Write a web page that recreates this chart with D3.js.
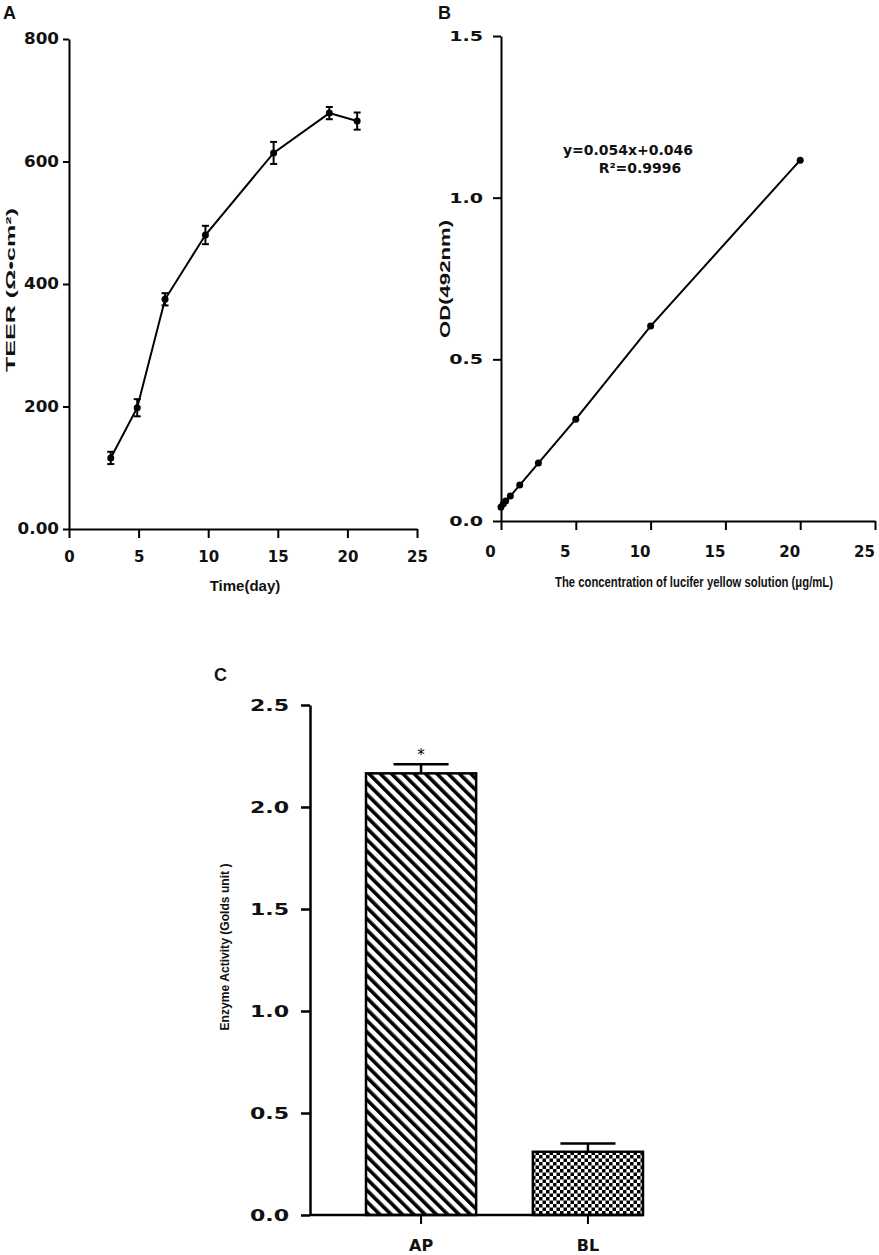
<!DOCTYPE html>
<html>

<head>
  <script type="text/javascript" src="https://d3js.org/d3.v7.min.js"></script>
  <style>
    body { margin: 0; background: #fff; }
    .tick text { font-family: "DejaVu Sans", sans-serif; font-weight: bold; fill: #111; }
    .axis path, .axis line { stroke: #000; stroke-width: 2px; }
    .title { font-family: "Liberation Sans", Arial, sans-serif; font-weight: bold; fill: #111; }
    .panel { font-family: "Liberation Sans", Arial, sans-serif; font-weight: bold; font-size: 18px; fill: #111; }
  </style>
</head>

<body>
  <script>
    // panel A: TEER over time
    var daysA = [3, 4.9, 6.9, 9.8, 14.7, 18.7, 20.7];
    var teer = [116, 198, 375, 480, 614, 679, 666];
    var teerErr = [10, 14, 10, 15, 18, 10, 14];
    var ticksAx = [0, 5, 10, 15, 20, 25];
    var ticksAy = [0, 200, 400, 600, 800];

    // panel B: lucifer yellow standard curve
    var concB = [0, 0.156, 0.3125, 0.625, 1.25, 2.5, 5, 10, 20];
    var odB = [0.043, 0.053, 0.062, 0.077, 0.111, 0.179, 0.315, 0.603, 1.116];
    var ticksBx = [0, 5, 10, 15, 20, 25];
    var ticksBy = [0, 0.5, 1.0, 1.5];

    // panel C: enzyme activity
    var groupsC = ["AP", "BL"];
    var enzyme = [2.165, 0.31];
    var enzymeErr = [0.045, 0.04];
    var ticksCy = [0, 0.5, 1.0, 1.5, 2.0, 2.5];

    var svg = d3.select("body").append("svg")
      .attr("width", 879)
      .attr("height", 1255);

    // patterns for the bars
    var defs = svg.append("defs");
    var hatch = defs.append("pattern")
      .attr("id", "hatch")
      .attr("patternUnits", "userSpaceOnUse")
      .attr("width", 8).attr("height", 8)
      .attr("patternTransform", "rotate(-45)");
    hatch.append("rect").attr("width", 8).attr("height", 8).attr("fill", "#fff");
    hatch.append("rect").attr("width", 3.6).attr("height", 8).attr("fill", "#000");

    var checker = defs.append("pattern")
      .attr("id", "checker")
      .attr("patternUnits", "userSpaceOnUse")
      .attr("width", 7).attr("height", 7);
    checker.append("rect").attr("width", 7).attr("height", 7).attr("fill", "#fff");
    checker.append("rect").attr("width", 3.5).attr("height", 3.5).attr("fill", "#000");
    checker.append("rect").attr("x", 3.5).attr("y", 3.5).attr("width", 3.5).attr("height", 3.5).attr("fill", "#000");

    // stretch tick labels horizontally (the original font is very wide)
    function stretchY(g, size, sx, pad) {
      g.selectAll(".tick text")
        .style("font-size", size + "px")
        .attr("x", -pad / sx)
        .attr("transform", "scale(" + sx + ",1)");
    }

    // ---------- A ----------
    var xA = d3.scaleLinear().domain([0, 25]).range([69, 417]);
    var yA = d3.scaleLinear().domain([0, 800]).range([529, 39]);

    var gAx = svg.append("g").attr("class", "axis")
      .attr("transform", "translate(0," + yA(0) + ")")
      .call(d3.axisBottom(xA).tickValues(ticksAx).tickSize(9).tickPadding(13).tickSizeOuter(0));
    gAx.selectAll(".tick text").style("font-size", "15px");

    var gAy = svg.append("g").attr("class", "axis")
      .attr("transform", "translate(" + xA(0) + ",0)")
      .call(d3.axisLeft(yA).tickValues(ticksAy).tickSize(6).tickSizeOuter(0)
        .tickFormat(function (d) { return d === 0 ? "0.00" : d; }));
    stretchY(gAy, 15, 1.12, 10);

    var lineA = d3.line()
      .x(function (d, i) { return xA(daysA[i]); })
      .y(function (d) { return yA(d); });
    svg.append("path").datum(teer)
      .attr("d", lineA)
      .attr("fill", "none").attr("stroke", "#000").attr("stroke-width", 2);

    var errA = svg.append("g").selectAll("g").data(teer).enter().append("g");
    errA.append("line")
      .attr("x1", function (d, i) { return xA(daysA[i]); })
      .attr("x2", function (d, i) { return xA(daysA[i]); })
      .attr("y1", function (d, i) { return yA(d - teerErr[i]); })
      .attr("y2", function (d, i) { return yA(d + teerErr[i]); })
      .attr("stroke", "#000").attr("stroke-width", 2);
    [-1, 1].forEach(function (s) {
      errA.append("line")
        .attr("x1", function (d, i) { return xA(daysA[i]) - 3.5; })
        .attr("x2", function (d, i) { return xA(daysA[i]) + 3.5; })
        .attr("y1", function (d, i) { return yA(d + s * teerErr[i]); })
        .attr("y2", function (d, i) { return yA(d + s * teerErr[i]); })
        .attr("stroke", "#000").attr("stroke-width", 2);
    });
    errA.append("circle")
      .attr("cx", function (d, i) { return xA(daysA[i]); })
      .attr("cy", function (d) { return yA(d); })
      .attr("r", 3.5).attr("fill", "#000");

    svg.append("text").attr("class", "title")
      .attr("x", 245).attr("y", 591)
      .attr("text-anchor", "middle").style("font-size", "15px")
      .text("Time(day)");
    svg.append("text").attr("class", "title")
      .attr("transform", "translate(15,290) rotate(-90)")
      .attr("text-anchor", "middle").style("font-size", "13px")
      .attr("textLength", 164).attr("lengthAdjust", "spacingAndGlyphs")
      .text("TEER (Ω•cm²)");
    svg.append("text").attr("class", "panel").attr("x", 3).attr("y", 19).text("A");

    // ---------- B ----------
    var xB = d3.scaleLinear().domain([0, 25]).range([501, 875]);
    var yB = d3.scaleLinear().domain([0, 1.5]).range([521, 36]);

    var gBx = svg.append("g").attr("class", "axis")
      .attr("transform", "translate(0," + yB(0) + ")")
      .call(d3.axisBottom(xB).tickValues(ticksBx).tickSize(9).tickPadding(16).tickSizeOuter(0));
    gBx.selectAll(".tick text").style("font-size", "15px").attr("dx", -11);

    var gBy = svg.append("g").attr("class", "axis")
      .attr("transform", "translate(" + xB(0) + ",0)")
      .call(d3.axisLeft(yB).tickValues(ticksBy).tickSize(8).tickSizeOuter(0).tickFormat(d3.format(".1f")));
    stretchY(gBy, 14.5, 1.32, 18);

    var lineB = d3.line()
      .x(function (d, i) { return xB(concB[i]); })
      .y(function (d) { return yB(d); });
    svg.append("path").datum(odB)
      .attr("d", lineB)
      .attr("fill", "none").attr("stroke", "#000").attr("stroke-width", 2);
    svg.append("g").selectAll("circle").data(odB).enter().append("circle")
      .attr("cx", function (d, i) { return xB(concB[i]); })
      .attr("cy", function (d) { return yB(d); })
      .attr("r", 3.5).attr("fill", "#000");

    svg.append("text").attr("class", "title")
      .attr("x", 628).attr("y", 155)
      .attr("text-anchor", "middle")
      .style("font-family", "DejaVu Sans").style("font-size", "14px")
      .text("y=0.054x+0.046");
    svg.append("text").attr("class", "title")
      .attr("x", 640).attr("y", 173)
      .attr("text-anchor", "middle")
      .style("font-family", "DejaVu Sans").style("font-size", "14px")
      .text("R²=0.9996");

    svg.append("text").attr("class", "title")
      .attr("transform", "translate(694,587) scale(1,1.2)")
      .attr("text-anchor", "middle").style("font-size", "12px")
      .attr("textLength", 278).attr("lengthAdjust", "spacingAndGlyphs")
      .text("The concentration of lucifer yellow solution (μg/mL)");
    svg.append("text").attr("class", "title")
      .attr("transform", "translate(450,279) rotate(-90)")
      .attr("text-anchor", "middle").style("font-size", "14px")
      .attr("textLength", 118).attr("lengthAdjust", "spacingAndGlyphs")
      .text("OD(492nm)");
    svg.append("text").attr("class", "panel").attr("x", 438).attr("y", 19).text("B");

    // ---------- C ----------
    var xC = d3.scaleBand().domain(groupsC).range([366, 643]).paddingInner(0.34).paddingOuter(0);
    var yC = d3.scaleLinear().domain([0, 2.5]).range([1215, 705]);

    var bars = svg.append("g").selectAll("g").data(enzyme).enter().append("g");
    bars.append("rect")
      .attr("x", function (d, i) { return xC(groupsC[i]); })
      .attr("y", function (d) { return yC(d); })
      .attr("width", xC.bandwidth())
      .attr("height", function (d) { return yC(0) - yC(d); })
      .attr("fill", function (d, i) { return i === 0 ? "url(#hatch)" : "url(#checker)"; })
      .attr("stroke", "#000").attr("stroke-width", 2.5);
    bars.append("line")
      .attr("x1", function (d, i) { return xC(groupsC[i]) + xC.bandwidth() / 2; })
      .attr("x2", function (d, i) { return xC(groupsC[i]) + xC.bandwidth() / 2; })
      .attr("y1", function (d) { return yC(d); })
      .attr("y2", function (d, i) { return yC(d + enzymeErr[i]); })
      .attr("stroke", "#000").attr("stroke-width", 2.5);
    bars.append("line")
      .attr("x1", function (d, i) { return xC(groupsC[i]) + xC.bandwidth() / 4; })
      .attr("x2", function (d, i) { return xC(groupsC[i]) + xC.bandwidth() * 3 / 4; })
      .attr("y1", function (d, i) { return yC(d + enzymeErr[i]); })
      .attr("y2", function (d, i) { return yC(d + enzymeErr[i]); })
      .attr("stroke", "#000").attr("stroke-width", 2.5);

    svg.append("text")
      .attr("x", xC("AP") + xC.bandwidth() / 2).attr("y", yC(enzyme[0] + enzymeErr[0]) - 4)
      .attr("text-anchor", "middle")
      .style("font-family", "DejaVu Sans").style("font-size", "15px")
      .text("*");

    var gCx = svg.append("g").attr("class", "axis")
      .attr("transform", "translate(0," + yC(0) + ")")
      .call(d3.axisBottom(xC).tickSize(9).tickPadding(16).tickSizeOuter(0));
    gCx.select(".domain").remove();
    gCx.selectAll(".tick text").style("font-size", "16px");
    svg.append("line")
      .attr("x1", 310).attr("x2", xC("BL") + xC.bandwidth())
      .attr("y1", yC(0)).attr("y2", yC(0))
      .attr("stroke", "#000").attr("stroke-width", 2.5);

    var gCy = svg.append("g").attr("class", "axis")
      .attr("transform", "translate(310,0)")
      .call(d3.axisLeft(yC).tickValues(ticksCy).tickSize(9).tickSizeOuter(0).tickFormat(d3.format(".1f")));
    gCy.selectAll("path, line").style("stroke-width", "2.5px");
    stretchY(gCy, 16, 1.38, 21);

    svg.append("text").attr("class", "title")
      .attr("transform", "translate(229,947) rotate(-90)")
      .attr("text-anchor", "middle").style("font-size", "12px")
      .attr("textLength", 167).attr("lengthAdjust", "spacingAndGlyphs")
      .text("Enzyme Activity (Golds unit )");
    svg.append("text").attr("class", "panel").attr("x", 214).attr("y", 681).text("C");
  </script>
</body>

</html>
